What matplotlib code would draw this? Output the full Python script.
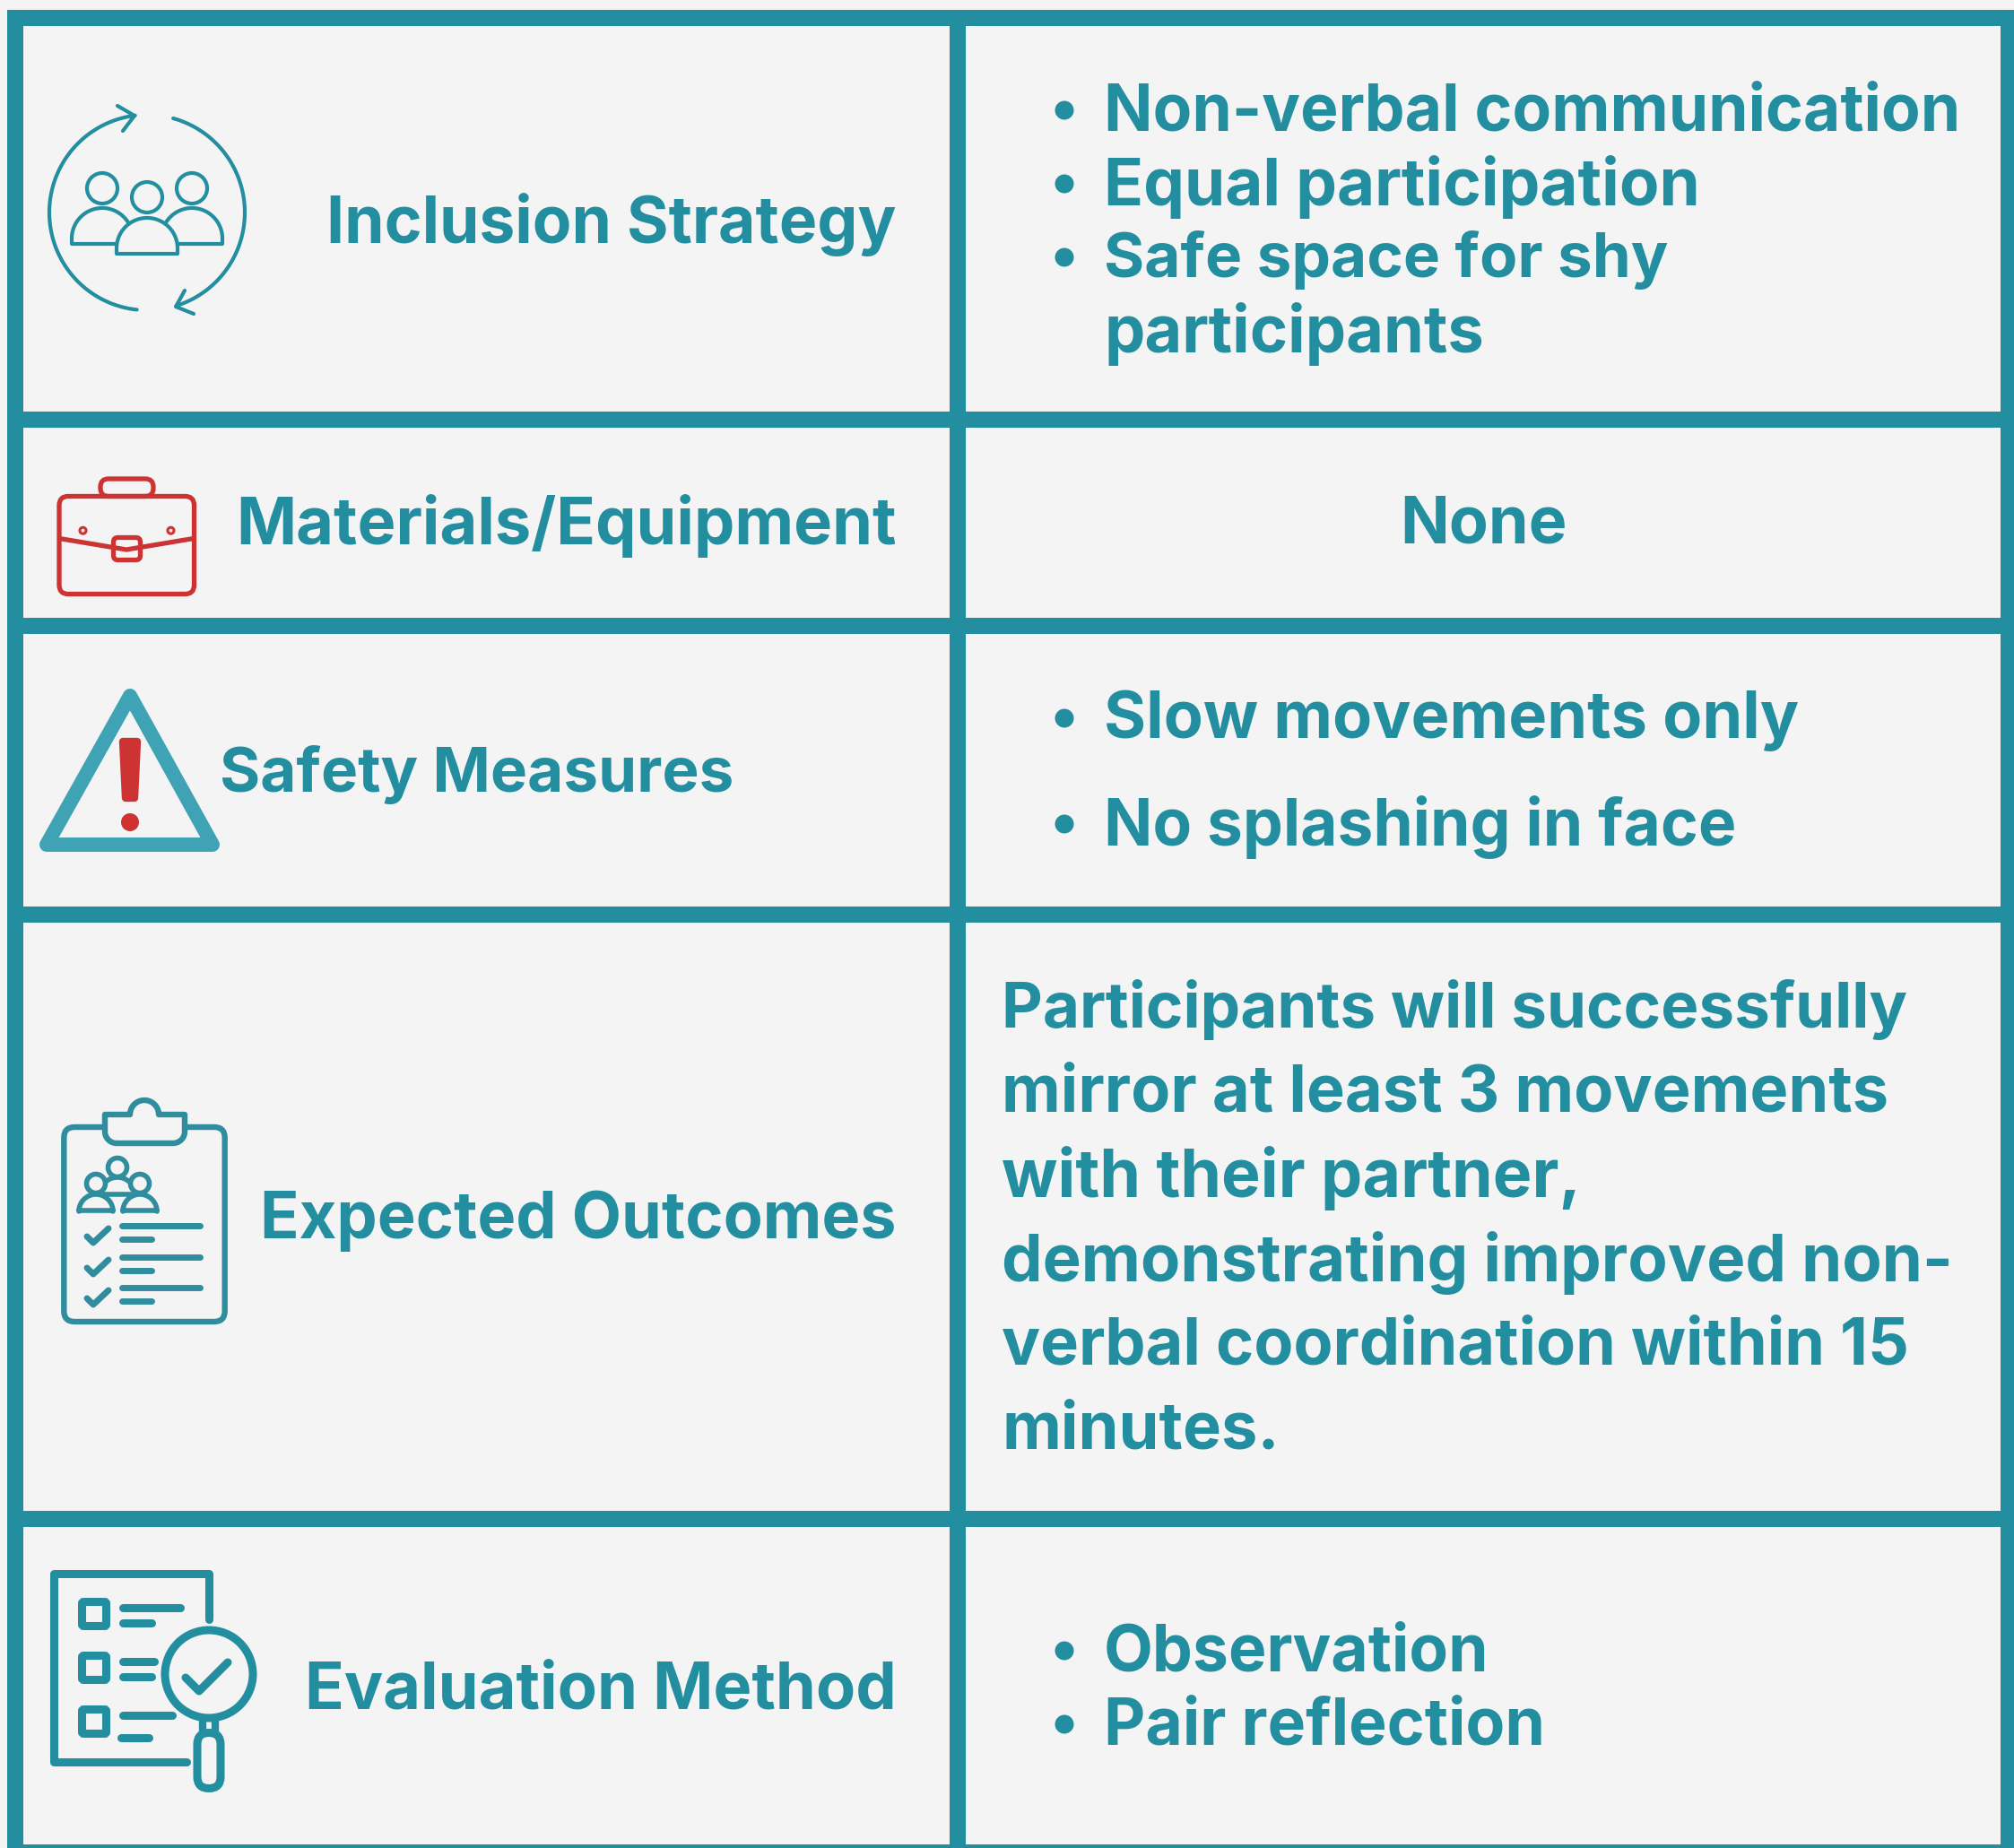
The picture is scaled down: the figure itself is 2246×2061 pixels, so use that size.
import numpy as np
import matplotlib.pyplot as plt
from matplotlib.patches import Rectangle, Circle, FancyBboxPatch, Polygon

TEAL = '#238e9f'
TEAL2 = '#2f8d9d'
TEAL3 = '#40a3b5'
RED = '#cd3333'
BG = '#f4f4f4'
FONT = 'Inter'

W, H = 2246, 2061

left_labels = ['Inclusion Strategy', 'Materials/Equipment', 'Safety Measures',
               'Expected Outcomes', 'Evaluation Method']
left_label_y = [250, 587, 864, 1362, 1886]
left_label_right = [1000, 1000, 818, 1000, 1000]
left_label_size = [51.4, 51.9, 49.8, 51.8, 52.0]

inclusion_items = ['Non-verbal communication', 'Equal participation', 'Safe space for shy']
inclusion_y = [126, 208, 290]
inclusion_size = [51.4, 52.4, 49.8]
inclusion_wrap = 'participants'
inclusion_wrap_y = 373
safety_items = ['Slow movements only', 'No splashing in face']
safety_y = [804, 922]
safety_size = [51.9, 51.3]
outcome_lines = ['Participants will successfully', 'mirror at least 3 movements',
                 'with their partner,', 'demonstrating improved non-',
                 'verbal coordination within 15', 'minutes.']
outcome_y = [1126, 1220, 1314, 1408, 1502, 1596]
outcome_size = [51.0, 51.9, 52.9, 52.2, 51.8, 52.0]
eval_items = ['Observation', 'Pair reflection']
eval_y = [1844, 1926]
eval_size = [51.4, 51.5]

# grid rules: (start, end)
h_rules = [(11, 29), (459, 477), (689, 707), (1011, 1029), (1685, 1703), (2057, 2061)]
v_rules = [(8, 26), (1059, 1077), (2231, 2246)]

fig = plt.figure(figsize=(W / 100, H / 100), dpi=100, facecolor=BG)
ax = fig.add_axes([0, 0, 1, 1])
ax.set_xlim(0, W)
ax.set_ylim(H, 0)
ax.axis('off')

for y0, y1 in h_rules:
    ax.add_patch(Rectangle((8, y0), W - 8, y1 - y0, color=TEAL, lw=0))
for x0, x1 in v_rules:
    ax.add_patch(Rectangle((x0, 11), x1 - x0, H - 11, color=TEAL, lw=0))


def txt(x, y, s, size=51.5, ha='left'):
    ax.text(x, y, s, fontsize=size, fontweight='bold', family=FONT, color=TEAL, ha=ha, va='center')


def bullets(items, ys, sizes):
    for s, y, size in zip(items, ys, sizes):
        ax.add_patch(Circle((1187, y - 3), 10.5, color=TEAL, lw=0))
        txt(1231, y, s, size=size)


def line(xs, ys, color=TEAL, lw=3, cap='round'):
    ax.plot(xs, ys, color=color, lw=lw, solid_capstyle=cap, solid_joinstyle='round')


def rbox(x, y, w, h, r, color=TEAL, lw=3, fill='none'):
    ax.add_patch(FancyBboxPatch((x + r, y + r), w - 2 * r, h - 2 * r, boxstyle=f'round,pad={r}',
                                fc=fill, ec=color, lw=lw))


def arc(cx, cy, r, a0, a1, color=TEAL, lw=3):
    # angles in degrees, y axis points down on screen
    t = np.radians(np.linspace(a0, a1, 80))
    ax.plot(cx + r * np.cos(t), cy - r * np.sin(t), color=color, lw=lw, solid_capstyle='round')


def person(cx, head_y, head_r, sh_top, base, half, lw=3.0, color=TEAL, fill=BG):
    # dome body and round head
    t = np.radians(np.linspace(180, 0, 60))
    xs = np.r_[cx - half, cx + half * np.cos(t), cx + half]
    ys = np.r_[base, sh_top + half - half * np.sin(t), base]
    ax.fill(xs, ys, fc=fill, ec=color, lw=lw, joinstyle='round')
    ax.add_patch(Circle((cx, head_y), head_r, fc=fill, ec=color, lw=lw))


# people in a cycle
arc(164, 237, 109, 97, 264, lw=3)
arc(164, 237, 109, 74.5, -72.5, lw=3)
line([131, 150, 137], [118, 129, 146], lw=3)
line([206, 196, 216], [324, 342, 350], lw=3)
person(114, 210, 17, 232, 272, 34)
person(214, 210, 17, 232, 272, 34)
person(164, 220, 17, 243, 283, 34)

# briefcase
rbox(112, 534, 59, 19.5, 9, color=RED, lw=3.8)
rbox(66, 553.5, 150.5, 109, 10, color=RED, lw=3.8)
line([66, 141, 216], [600.5, 613, 600.5], color=RED, lw=3.8, cap='butt')
rbox(126.5, 599.5, 30, 25, 5, color=RED, lw=3.8, fill='none')
for cx in [92.5, 190.5]:
    ax.add_patch(Circle((cx, 591.7), 3.5, fc=BG, ec=RED, lw=2.2))

# warning triangle
ax.add_patch(Polygon([(145, 776), (237, 942), (52, 942)], closed=True, fc=BG, ec=TEAL3, lw=11.5,
                     joinstyle='round'))
ax.add_patch(Polygon([(137, 827), (153, 827), (150, 890), (140, 890)], closed=True, fc=RED, ec=RED,
                     lw=6, joinstyle='round'))
ax.add_patch(Circle((145, 917), 10, color=RED, lw=0))

# clipboard
rbox(71.3, 1257, 179.4, 217, 12, color=TEAL2, lw=4.6)
t_dome = np.radians(np.linspace(180, 0, 40))
t_br = np.radians(np.linspace(0, -90, 12))
t_bl = np.radians(np.linspace(-90, -180, 12))
clip_x = np.r_[117, 161 + 16 * np.cos(t_dome), 193 + 13 * np.cos(t_br), 130 + 13 * np.cos(t_bl)]
clip_y = np.r_[1243, 1243 - 16 * np.sin(t_dome), 1262 - 13 * np.sin(t_br), 1262 - 13 * np.sin(t_bl)]
ax.add_patch(Polygon(np.c_[np.r_[clip_x[:41], 206, clip_x[41:]], np.r_[clip_y[:41], 1243, clip_y[41:]]],
                     closed=True, fc=BG, ec=TEAL2, lw=4.6, joinstyle='round'))
person(131, 1302, 10.5, 1313, 1332, 20, lw=4, color=TEAL2)
person(107, 1320, 10.5, 1332, 1350, 19, lw=4, color=TEAL2)
person(156, 1320, 10.5, 1332, 1350, 19, lw=4, color=TEAL2)
for y in [1374, 1409, 1443]:
    line([97, 104, 121], [y + 5, y + 12, y - 4], color=TEAL2, lw=5)
    line([136, 223], [y - 7, y - 7], color=TEAL2, lw=5)
    line([136, 169], [y + 8, y + 8], color=TEAL2, lw=5)

# evaluation checklist with magnifier
line([208, 60, 60, 233, 233], [1965, 1965, 1755, 1755, 1806], lw=6.5)
for y in [1800, 1860, 1920]:
    rbox(91.5, y - 13.5, 27, 27, 2, lw=6.5)
line([137, 201], [1793, 1793], lw=6.5)
line([137, 169], [1810, 1810], lw=6.5)
line([137, 172], [1853, 1853], lw=6.5)
line([137, 169], [1870, 1870], lw=6.5)
line([137, 192], [1913, 1913], lw=6.5)
line([135, 166], [1938, 1938], lw=6.5)
ax.add_patch(Circle((233, 1867), 49, fc=BG, ec=TEAL, lw=6.5))
line([207, 222, 254], [1871, 1886, 1854], lw=6.5)
line([226, 226], [1917, 1932], lw=6, cap='butt')
line([240, 240], [1917, 1932], lw=6, cap='butt')
rbox(220, 1932.5, 26, 62, 13, lw=6.5)

# left column labels
for s, y, x, size in zip(left_labels, left_label_y, left_label_right, left_label_size):
    txt(x, y, s, size=size, ha='right')

# right column content
bullets(inclusion_items, inclusion_y, inclusion_size)
txt(1231, inclusion_wrap_y, inclusion_wrap, size=51.9)
txt(1655, 587, 'None', size=51.7, ha='center')
bullets(safety_items, safety_y, safety_size)
for s, y, size in zip(outcome_lines, outcome_y, outcome_size):
    txt(1117, y, s, size=size)
bullets(eval_items, eval_y, eval_size)

fig.savefig('out.png', dpi=100, facecolor=BG)
